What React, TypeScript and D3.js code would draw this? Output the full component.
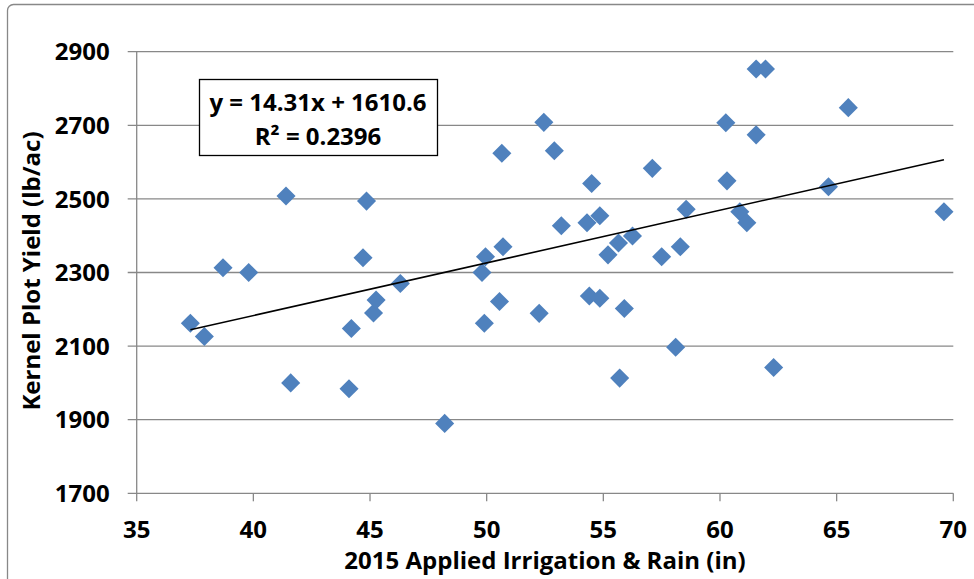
import React from "react";
import * as d3 from "d3";

const WIDTH = 974;
const HEIGHT = 579;
const MARGIN = { top: 51.7, right: 20.7, bottom: 85.7, left: 136.7 };

// irrigation + rain (in)
const irrigation = [
  37.3, 37.9, 38.7, 39.8, 41.4, 41.6, 44.1, 44.2, 44.7, 44.85,
  45.15, 45.26, 46.3, 48.2, 49.8, 49.9, 49.95, 50.55, 50.65, 50.7,
  52.25, 52.45, 52.9, 53.2, 54.3, 54.4, 54.5, 54.85, 54.85, 55.2,
  55.65, 55.7, 55.9, 56.25, 57.1, 57.5, 58.1, 58.3, 58.55, 60.25,
  60.3, 60.85, 61.15, 61.55, 61.55, 61.95, 62.3, 64.65, 65.5, 69.6,
];
// kernel plot yield (lb/ac)
const kernelYield = [
  2162, 2126, 2313, 2300, 2508, 2000, 1984, 2148, 2340, 2494,
  2190, 2225, 2270, 1890, 2300, 2162, 2343, 2221, 2624, 2370,
  2189, 2708, 2631, 2427, 2435, 2236, 2542, 2454, 2230, 2348,
  2380, 2013, 2202, 2399, 2583, 2343, 2097, 2370, 2472, 2707,
  2549, 2465, 2435, 2674, 2853, 2853, 2042, 2533, 2748, 2465,
];

const xTicks = [35, 40, 45, 50, 55, 60, 65, 70];
const yTicks = [1700, 1900, 2100, 2300, 2500, 2700, 2900];

const slope = 14.31;
const intercept = 1610.6;
const equationText = "y = 14.31x + 1610.6";
const r2Text = "R\u00B2 = 0.2396";

const xTitle = "2015 Applied Irrigation & Rain (in)";
const yTitle = "Kernel Plot Yield (lb/ac)";

const FONT = "'Open Sans', 'Liberation Sans', sans-serif";
const GRID = "#888888";
const BLUE = "#4F81BD";

export default function App() {
  const boundsWidth = WIDTH - MARGIN.left - MARGIN.right;
  const boundsHeight = HEIGHT - MARGIN.top - MARGIN.bottom;

  const xScale = d3.scaleLinear().domain([35, 70]).range([0, boundsWidth]);
  const yScale = d3.scaleLinear().domain([1700, 2900]).range([boundsHeight, 0]);

  const diamond = d3.symbol(d3.symbolSquare, 182)()!;

  const xMin = d3.min(irrigation)!;
  const xMax = d3.max(irrigation)!;
  const trend = d3
    .line<number>()
    .x((d) => xScale(d))
    .y((d) => yScale(slope * d + intercept))([xMin, xMax]);

  return (
    <div style={{ position: "absolute", left: 0, top: 0 }}>
      <svg width={WIDTH} height={HEIGHT} style={{ display: "block" }}>
        <rect x={0} y={0} width={WIDTH} height={HEIGHT} fill="#ffffff" />
        <rect
          x={7.5}
          y={4.5}
          width={WIDTH + 40}
          height={HEIGHT + 40}
          rx={6}
          fill="none"
          stroke={GRID}
          strokeWidth={1.3}
        />
        <g transform={`translate(${MARGIN.left},${MARGIN.top})`}>
          {yTicks.map((t) => (
            <g key={t}>
              <line
                x1={-9}
                x2={boundsWidth}
                y1={yScale(t)}
                y2={yScale(t)}
                stroke={GRID}
                strokeWidth={1.3}
              />
              <text
                x={-27}
                y={yScale(t)}
                dy="0.36em"
                textAnchor="end"
                fontFamily={FONT}
                fontWeight="bold"
                fontSize={24}
              >
                {t}
              </text>
            </g>
          ))}
          <line x1={0} x2={0} y1={0} y2={boundsHeight} stroke={GRID} strokeWidth={1.3} />
          {xTicks.map((t) => (
            <g key={t}>
              <line
                x1={xScale(t)}
                x2={xScale(t)}
                y1={boundsHeight}
                y2={boundsHeight + 8}
                stroke={GRID}
                strokeWidth={1.3}
              />
              <text
                x={xScale(t)}
                y={boundsHeight + 45}
                textAnchor="middle"
                fontFamily={FONT}
                fontWeight="bold"
                fontSize={24}
              >
                {t}
              </text>
            </g>
          ))}

          {irrigation.map((d, i) => (
            <path
              key={i}
              d={diamond}
              fill={BLUE}
              transform={`translate(${xScale(d)},${yScale(kernelYield[i])}) rotate(45)`}
            />
          ))}

          <path d={trend!} fill="none" stroke="#000000" strokeWidth={1.6} />
        </g>

        <rect x={199.5} y={79.5} width={238} height={76} fill="#ffffff" stroke="#000000" strokeWidth={1.3} />
        <text x={318} y={111} textAnchor="middle" fontFamily={FONT} fontWeight="bold" fontSize={24}>
          {equationText}
        </text>
        <text x={318} y={145} textAnchor="middle" fontFamily={FONT} fontWeight="bold" fontSize={24}>
          {r2Text}
        </text>

        <text
          x={545}
          y={569}
          textAnchor="middle"
          fontFamily={FONT}
          fontWeight="bold"
          fontSize={24}
        >
          {xTitle}
        </text>
        <text
          transform="translate(40,271) rotate(-90)"
          textAnchor="middle"
          fontFamily={FONT}
          fontWeight="bold"
          fontSize={24}
        >
          {yTitle}
        </text>
      </svg>
    </div>
  );
}
